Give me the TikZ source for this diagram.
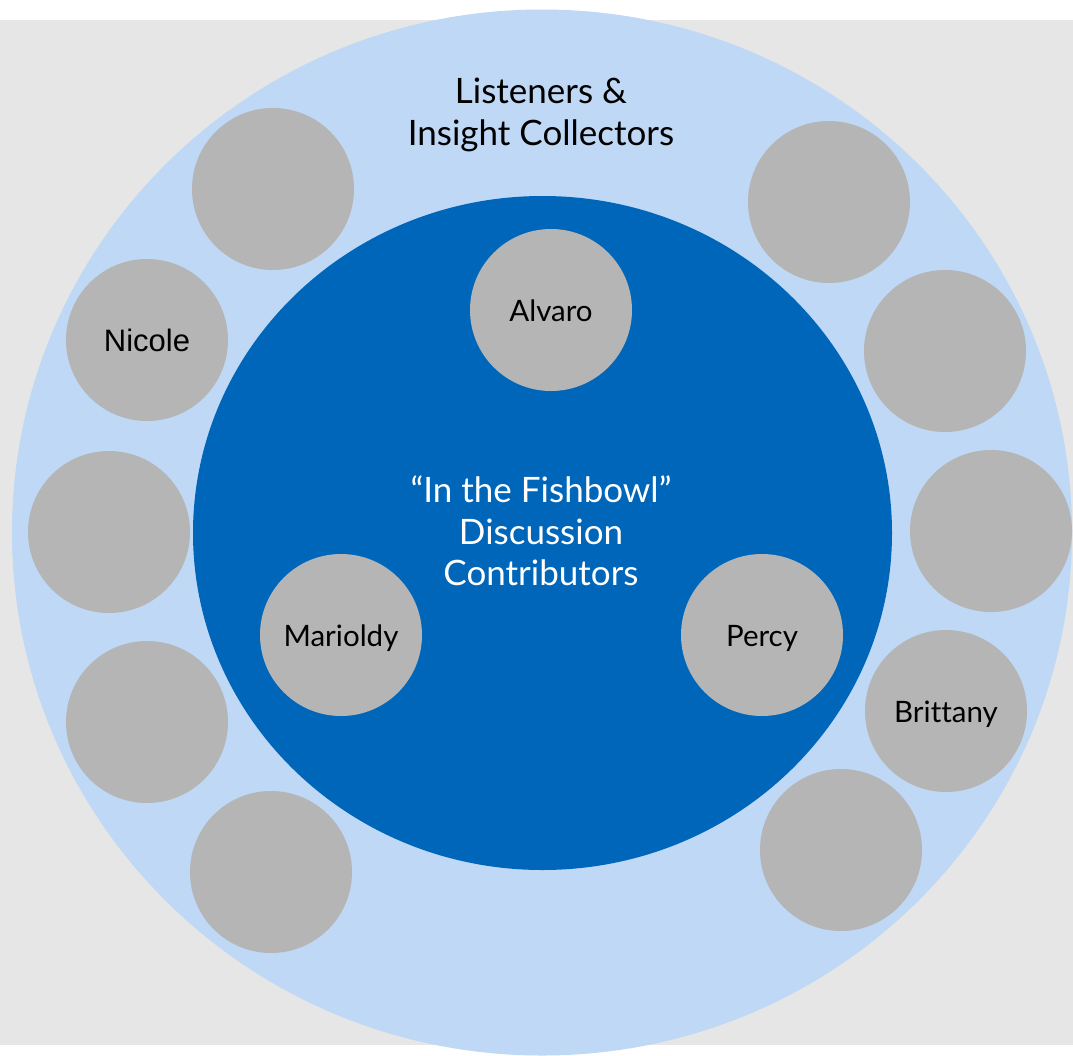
\documentclass[tikz,border=0pt]{standalone}
\usepackage{xcolor}
\usepackage{fontspec}
\setmainfont{Lato}
\newfontfamily\arialfont{Liberation Sans}
\usepackage{tikz}

\definecolor{roomgray}{RGB}{230,230,230}
\definecolor{ringblue}{RGB}{191,216,245}
\definecolor{bowlblue}{RGB}{0,102,185}
\definecolor{seatgray}{RGB}{181,181,181}

\begin{document}
\begin{tikzpicture}[x=1pt,y=-1pt,
    seat/.style={shape=circle,fill=seatgray,minimum size=162pt,inner sep=0pt,align=center,
                 text height=23pt,text depth=0pt,font=\fontsize{29.5}{32}\selectfont},
    heading/.style={align=center,font=\fontsize{35}{42}\selectfont}]
      \useasboundingbox (0,0) rectangle (1073,1055);
      \fill[roomgray] (0,20) rectangle (1073,1045);
      \fill[ringblue] (542,532.5) ellipse (530 and 523);
      \fill[bowlblue] (542.5,533) ellipse (349.5 and 337);
      % outer ring
      \node[seat] (ringA) at (273,189) {};
      \node[seat] (ringB) at (147,340) {\arialfont\fontsize{31}{35}\selectfont Nicole};
      \node[seat] (ringC) at (109,532) {};
      \node[seat] (ringD) at (147,722) {};
      \node[seat] (ringE) at (271,872) {};
      \node[seat] (ringF) at (829,202) {};
      \node[seat] (ringG) at (945,351) {};
      \node[seat] (ringH) at (991,531) {};
      \node[seat] (ringI) at (946,711) {Brit\kern0pt tany};
      \node[seat] (ringJ) at (841,850) {};
      % inner bowl
      \node[seat] (alvaro) at (551,310) {Alvaro};
      \node[seat] (marioldy) at (341,635) {Marioldy};
      \node[seat] (percy) at (762,635) {Percy};
      \node[heading] (listeners) at (541,115) {Listeners \&\\Insight Collectors};
      \node[heading,text=white,font=\fontsize{35}{41.5}\selectfont] (fishbowl) at (541,531) {“In the Fishbowl”\\Discussion\\Contributors};
\end{tikzpicture}
\end{document}
